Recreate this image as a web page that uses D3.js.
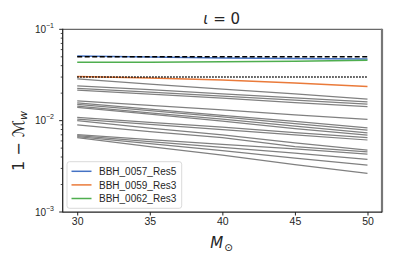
<!DOCTYPE html>
<html>
<head>
<meta charset="utf-8">
<script src="https://cdn.jsdelivr.net/npm/d3@7"></script>
<style>
  body { margin: 0; background: #fff; }
  text { font-family: "Liberation Sans", Arial, sans-serif; fill: #262626; }
</style>
</head>
<body>
<div id="chart"></div>
<script>
// masses where the mismatch was evaluated
let masses = [30, 35, 40, 45, 50];

// the three highlighted simulations
let namedLabels = ["BBH_0057_Res5", "BBH_0059_Res3", "BBH_0062_Res3"];
let namedColors = ["#4472c4", "#ea7a3a", "#4fae4f"];
let named0057 = [0.0510, 0.0496, 0.0486, 0.0479, 0.0473];
let named0059 = [0.0304, 0.0293, 0.0278, 0.0259, 0.0237];
let named0062 = [0.0435, 0.0436, 0.0440, 0.0448, 0.0457];

// reference thresholds
let dashedLevel = 0.05, dottedLevel = 0.03;

// all the other simulations (grey)
let greyRuns = [
    [0.0286, 0.0251, 0.0222, 0.0196, 0.01725],
    [0.0241, 0.0218, 0.0197, 0.0178, 0.0161],
    [0.0226, 0.0205, 0.0186, 0.0168, 0.0152],
    [0.0216, 0.0195, 0.0176, 0.0158, 0.0142],
    [0.0165, 0.0147, 0.0131, 0.0116, 0.01033],
    [0.0157, 0.0134, 0.0114, 0.0098, 0.00836],
    [0.0151, 0.0129, 0.0110, 0.0093, 0.00789],
    [0.01445, 0.0122, 0.0104, 0.0087, 0.00737],
    [0.0140, 0.0118, 0.0099, 0.0082, 0.00695],
    [0.01087, 0.0096, 0.0085, 0.0074, 0.0065],
    [0.0104, 0.0091, 0.0080, 0.0070, 0.00614],
    [0.01003, 0.0083, 0.0070, 0.0057, 0.00477],
    [0.0090, 0.0076, 0.0065, 0.0052, 0.00456],
    [0.00701, 0.0062, 0.0055, 0.0049, 0.00431],
    [0.00687, 0.0059, 0.0051, 0.0044, 0.00377],
    [0.0067, 0.0056, 0.0047, 0.0039, 0.00326],
    [0.00653, 0.0052, 0.0042, 0.0033, 0.00265]
];

let xTicks = [30, 35, 40, 45, 50];
let yMajorExps = [-1, -2, -3];

let w = 395, h = 263;
let padLeft = 62.7, padRight = 382, padTop = 29.3, padBottom = 212;

let svg = d3.select("#chart").append("svg")
    .attr("width", w)
    .attr("height", h);

let xScale = d3.scaleLinear().domain([29, 51]).range([padLeft, padRight]);
let yScale = d3.scaleLog().domain([1e-3, 1e-1]).range([padBottom, padTop]);

let line = d3.line()
    .x((d, i) => xScale(masses[i]))
    .y(d => yScale(d));

// grey runs
svg.append("g").selectAll("path")
    .data(greyRuns)
    .enter()
    .append("path")
    .attr("d", line)
    .attr("fill", "none")
    .attr("stroke", "#808080")
    .attr("stroke-width", 1.25);

// named runs
let named = [named0057, named0059, named0062];
svg.append("g").selectAll("path")
    .data(named)
    .enter()
    .append("path")
    .attr("d", line)
    .attr("fill", "none")
    .attr("stroke", (d, i) => namedColors[i])
    .attr("stroke-width", 1.5);

// thresholds
svg.append("path")
    .attr("d", line(masses.map(() => dashedLevel)))
    .attr("fill", "none")
    .attr("stroke", "#000")
    .attr("stroke-width", 1.5)
    .attr("stroke-dasharray", "5,2.5");
svg.append("path")
    .attr("d", line(masses.map(() => dottedLevel)))
    .attr("fill", "none")
    .attr("stroke", "#000")
    .attr("stroke-width", 1.6)
    .attr("stroke-dasharray", "1.5,1.5");

// frame
svg.append("line").attr("x1", padLeft).attr("x2", padRight).attr("y1", padTop).attr("y2", padTop)
    .attr("stroke", "#444").attr("stroke-width", 1);
svg.append("line").attr("x1", padRight).attr("x2", padRight).attr("y1", padTop - 0.5).attr("y2", padBottom + 0.5)
    .attr("stroke", "#777").attr("stroke-width", 2.2);
svg.append("line").attr("x1", padLeft).attr("x2", padLeft).attr("y1", padTop - 0.5).attr("y2", padBottom + 0.5)
    .attr("stroke", "#222").attr("stroke-width", 1.25);
svg.append("line").attr("x1", padLeft).attr("x2", padRight).attr("y1", padBottom).attr("y2", padBottom)
    .attr("stroke", "#222").attr("stroke-width", 1.25);

// x axis
let xAxis = svg.append("g")
    .attr("transform", "translate(0," + padBottom + ")")
    .call(d3.axisBottom(xScale).tickValues(xTicks).tickSize(3.5).tickPadding(2.5));
xAxis.select(".domain").remove();
xAxis.selectAll(".tick line").attr("stroke", "#222").attr("stroke-width", 1);
xAxis.selectAll(".tick text").attr("font-size", 10.5).attr("fill", "#262626")
    .style("font-family", "'Liberation Sans', Arial, sans-serif");

// y axis minor ticks
let minor = [];
for (let e = -3; e < -1; ++e) {
    for (let m = 2; m <= 9; ++m) minor.push(m * Math.pow(10, e));
}
svg.append("g").selectAll("line")
    .data(minor)
    .enter()
    .append("line")
    .attr("x1", padLeft - 2).attr("x2", padLeft)
    .attr("y1", d => yScale(d)).attr("y2", d => yScale(d))
    .attr("stroke", "#222").attr("stroke-width", 0.8);

// y axis major ticks + labels
let yMajor = svg.append("g").selectAll("g")
    .data(yMajorExps)
    .enter()
    .append("g")
    .attr("transform", e => "translate(0," + yScale(Math.pow(10, e)) + ")");
yMajor.append("line")
    .attr("x1", padLeft - 3.5).attr("x2", padLeft)
    .attr("stroke", "#222").attr("stroke-width", 1);
let yLab = yMajor.append("text")
    .attr("x", 54)
    .attr("y", 3.5)
    .attr("text-anchor", "end")
    .attr("font-size", 10);
yLab.append("tspan").text("10");
yLab.append("tspan")
    .attr("font-size", 7)
    .attr("dy", -5)
    .text(e => "\u2212" + (-e));

// title
svg.append("text")
    .attr("x", 221.7)
    .attr("y", 24)
    .attr("text-anchor", "middle")
    .attr("font-size", 15)
    .style("font-family", "'DejaVu Sans', sans-serif")
    .html('<tspan font-style="italic">\u03B9</tspan> = 0');

// x label
let xl = svg.append("text")
    .attr("x", 221.7)
    .attr("y", 248)
    .attr("text-anchor", "middle")
    .attr("font-size", 15)
    .style("font-family", "'DejaVu Sans', sans-serif");
xl.append("tspan").attr("font-style", "italic").text("M");
xl.append("tspan").attr("font-size", 10.5).attr("dy", 3).attr("dx", 1).text("\u2299");

// y label
let yl = svg.append("text")
    .attr("transform", "translate(24,141) rotate(-90)")
    .attr("text-anchor", "middle")
    .attr("font-size", 16)
    .style("font-family", "'DejaVu Sans', sans-serif");
yl.append("tspan").text("1 \u2212 \u2133");
yl.append("tspan").attr("font-size", 11).attr("font-style", "italic").attr("dy", 3).text("w");

// legend
let legend = svg.append("g").attr("transform", "translate(67,161.7)");
legend.append("rect")
    .attr("width", 114.7).attr("height", 46.6)
    .attr("rx", 2.5)
    .attr("fill", "#fff")
    .attr("fill-opacity", 0.85)
    .attr("stroke", "#d0d0d0")
    .attr("stroke-width", 0.8);
let entries = legend.selectAll("g.entry")
    .data(namedLabels)
    .enter()
    .append("g")
    .attr("class", "entry")
    .attr("transform", (d, i) => "translate(0," + (9.6 + i * 13.6) + ")");
entries.append("line")
    .attr("x1", 4.5).attr("x2", 24.5)
    .attr("stroke", (d, i) => namedColors[i])
    .attr("stroke-width", 1.5);
entries.append("text")
    .attr("x", 32)
    .attr("y", 3.6)
    .attr("font-size", 10)
    .text(d => d);
</script>
</body>
</html>
